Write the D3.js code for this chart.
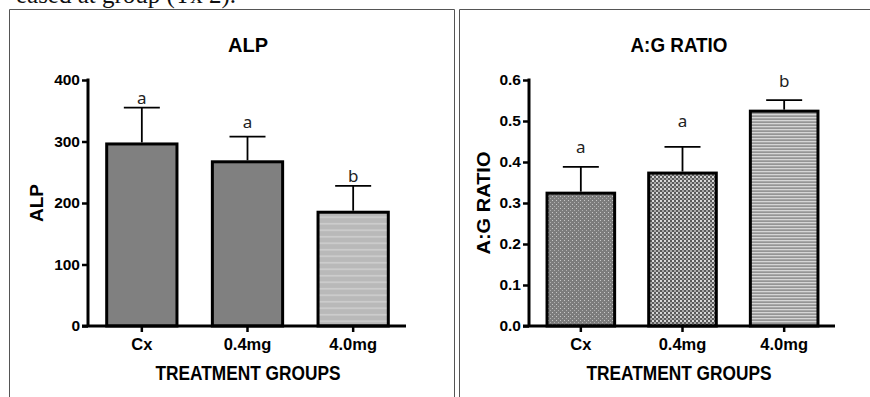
<!DOCTYPE html>
<html>
<head>
<meta charset="utf-8">
<script src="https://cdn.jsdelivr.net/npm/d3@7"></script>
<style>
  html, body { margin: 0; padding: 0; background: #fff; }
  svg { display: block; }
</style>
</head>
<body>
<svg id="chart" width="870" height="397"></svg>
<script>
// ---------------- DATA ----------------
const categories = ["Cx", "0.4mg", "4.0mg"];

const alpMeans   = [296, 267, 185];
const alpErrors  = [59, 41, 43];
const alpLetters = ["a", "a", "b"];
const alpTicks   = [0, 100, 200, 300, 400];

const agMeans    = [0.324, 0.373, 0.524];
const agErrors   = [0.064, 0.064, 0.027];
const agLetters  = ["a", "a", "b"];
const agTicks    = [0, 0.1, 0.2, 0.3, 0.4, 0.5, 0.6];

const xAxisTitle = "TREATMENT GROUPS";
const captionText = "eased at group (Tx 2).";

// ---------------- DRAW ----------------
const svg = d3.select("#chart");
const defs = svg.append("defs");

// fill patterns
function solid(id, c) {
  const p = defs.append("pattern").attr("id", id).attr("patternUnits", "userSpaceOnUse")
    .attr("width", 4).attr("height", 4);
  p.append("rect").attr("width", 4).attr("height", 4).attr("fill", c);
}
solid("solidGray", "#808080");

(function () {
  const p = defs.append("pattern").attr("id", "lightStripes").attr("patternUnits", "userSpaceOnUse")
    .attr("width", 6).attr("height", 6.5);
  p.append("rect").attr("width", 6).attr("height", 6.5).attr("fill", "#b9b9b9");
  p.append("rect").attr("y", 2).attr("width", 6).attr("height", 1.5).attr("fill", "#d0d0d0");
})();
(function () {
  const p = defs.append("pattern").attr("id", "dotsFine").attr("patternUnits", "userSpaceOnUse")
    .attr("width", 4).attr("height", 4);
  p.append("rect").attr("width", 4).attr("height", 4).attr("fill", "#7c7c7c");
  p.append("rect").attr("x", 0).attr("y", 0).attr("width", 1).attr("height", 1).attr("fill", "#c8c8c8");
  p.append("rect").attr("x", 2).attr("y", 2).attr("width", 1).attr("height", 1).attr("fill", "#b0b0b0");
})();
(function () {
  const p = defs.append("pattern").attr("id", "checker").attr("patternUnits", "userSpaceOnUse")
    .attr("width", 4).attr("height", 4);
  p.append("rect").attr("width", 4).attr("height", 4).attr("fill", "#5a5a5a");
  p.append("rect").attr("x", 0).attr("y", 0).attr("width", 2).attr("height", 2).attr("fill", "#d8d8d8");
  p.append("rect").attr("x", 2).attr("y", 2).attr("width", 2).attr("height", 2).attr("fill", "#a8a8a8");
})();
(function () {
  const p = defs.append("pattern").attr("id", "fineStripes").attr("patternUnits", "userSpaceOnUse")
    .attr("width", 4).attr("height", 3);
  p.append("rect").attr("width", 4).attr("height", 3).attr("fill", "#d6d6d6");
  p.append("rect").attr("y", 1.5).attr("width", 4).attr("height", 1.2).attr("fill", "#7a7a7a");
})();

// caption fragment at the top (from the article, cut off by the page edge as in the source)
svg.append("text")
  .attr("x", 236).attr("y", 3)
  .attr("text-anchor", "end")
  .attr("font-family", "'Liberation Serif', 'Times New Roman', serif")
  .attr("font-size", 25)
  .attr("fill", "#111")
  .text(captionText);

// panel borders
svg.append("path").attr("d", "M9.5,397 V9.5 H454.5 V397")
  .attr("fill", "none").attr("stroke", "#555").attr("stroke-width", 1);
svg.append("path").attr("d", "M459.5,397 V9.5 H870")
  .attr("fill", "none").attr("stroke", "#555").attr("stroke-width", 1);

const SANS = "'Liberation Sans', Arial, sans-serif";

function drawPanel(cfg) {
  const g = svg.append("g");
  const y = d3.scaleLinear().domain(cfg.domain).range([326, 80]);
  const x = d3.scaleBand().domain(categories).range([cfg.x0, cfg.x1])
    .paddingInner(0.335).paddingOuter(0.1675);

  // title
  g.append("text")
    .attr("x", cfg.titleX).attr("y", 52)
    .attr("text-anchor", "middle")
    .attr("font-family", SANS).attr("font-weight", "bold").attr("font-size", 20.5)
    .attr("textLength", cfg.titleLen).attr("lengthAdjust", "spacingAndGlyphs")
    .text(cfg.title);

  // bars
  g.selectAll("rect.bar").data(cfg.means).join("rect")
    .attr("class", "bar")
    .attr("x", (d, i) => x(categories[i]))
    .attr("width", x.bandwidth())
    .attr("y", d => y(d))
    .attr("height", d => y(cfg.domain[0]) - y(d))
    .attr("fill", (d, i) => `url(#${cfg.fills[i]})`)
    .attr("stroke", "#000").attr("stroke-width", 3);

  // error bars
  const cx = i => x(categories[i]) + x.bandwidth() / 2;
  g.selectAll("line.err").data(cfg.means).join("line")
    .attr("x1", (d, i) => cx(i)).attr("x2", (d, i) => cx(i))
    .attr("y1", d => y(d) - 1.5)
    .attr("y2", (d, i) => y(d + cfg.errors[i]))
    .attr("stroke", "#000").attr("stroke-width", 1.8);
  g.selectAll("line.cap").data(cfg.means).join("line")
    .attr("x1", (d, i) => cx(i) - 18).attr("x2", (d, i) => cx(i) + 18)
    .attr("y1", (d, i) => y(d + cfg.errors[i]))
    .attr("y2", (d, i) => y(d + cfg.errors[i]))
    .attr("stroke", "#000").attr("stroke-width", 1.8);

  // significance letters
  g.selectAll("text.sig").data(cfg.letters).join("text")
    .attr("x", (d, i) => cx(i))
    .attr("y", (d, i) => y(cfg.means[i] + cfg.errors[i]) - cfg.letterGap[i])
    .attr("text-anchor", "middle")
    .attr("font-family", "'Noto Sans', 'Open Sans', sans-serif")
    .attr("font-size", 17)
    .attr("fill", "#222")
    .text(d => d);

  // y axis
  const yAxis = d3.axisLeft(y).tickValues(cfg.ticks).tickFormat(cfg.fmt)
    .tickSizeInner(6).tickSizeOuter(0).tickPadding(2);
  const ya = g.append("g").attr("transform", `translate(${cfg.x0 - 1},0)`).call(yAxis);
  ya.select(".domain").attr("stroke", "#000").attr("stroke-width", 3)
    .attr("d", `M0,326V78.5`);
  ya.selectAll(".tick line").attr("stroke", "#000").attr("stroke-width", 2.5);
  ya.selectAll(".tick text")
    .attr("font-family", SANS).attr("font-weight", "bold").attr("font-size", 15.5)
    .attr("fill", "#000");

  // x axis
  const xAxis = d3.axisBottom(x).tickSizeInner(6).tickSizeOuter(0).tickPadding(6);
  const xa = g.append("g").attr("transform", "translate(0,326)").call(xAxis);
  xa.select(".domain").attr("stroke", "#000").attr("stroke-width", 3)
    .attr("d", `M${cfg.x0 - 7},0H${cfg.x1}`);
  xa.selectAll(".tick line").attr("stroke", "#000").attr("stroke-width", 2.5);
  xa.selectAll(".tick text")
    .attr("font-family", SANS).attr("font-weight", "bold").attr("font-size", 16.5)
    .attr("fill", "#000");

  // x axis title
  g.append("text")
    .attr("x", cfg.titleX).attr("y", 380)
    .attr("text-anchor", "middle")
    .attr("font-family", SANS).attr("font-weight", "bold").attr("font-size", 19.5)
    .attr("textLength", 185).attr("lengthAdjust", "spacingAndGlyphs")
    .text(xAxisTitle);

  // y axis title
  g.append("text")
    .attr("transform", `translate(${cfg.yTitleX},203) rotate(-90)`)
    .attr("text-anchor", "middle")
    .attr("font-family", SANS).attr("font-weight", "bold").attr("font-size", 18)
    .attr("textLength", cfg.yTitleLen).attr("lengthAdjust", "spacingAndGlyphs")
    .text(cfg.yTitle);
}

drawPanel({
  title: "ALP", titleX: 248, titleLen: 40,
  yTitle: "ALP", yTitleX: 43, yTitleLen: 38,
  domain: [0, 400], ticks: alpTicks, fmt: d3.format("d"),
  means: alpMeans, errors: alpErrors, letters: alpLetters,
  letterGap: [4, 9, 4],
  fills: ["solidGray", "solidGray", "lightStripes"],
  x0: 89, x1: 406
});

drawPanel({
  title: "A:G RATIO", titleX: 679, titleLen: 97,
  yTitle: "A:G RATIO", yTitleX: 490, yTitleLen: 103,
  domain: [0, 0.6], ticks: agTicks, fmt: d3.format(".1f"),
  means: agMeans, errors: agErrors, letters: agLetters,
  letterGap: [14, 20, 13],
  fills: ["dotsFine", "checker", "fineStripes"],
  x0: 530, x1: 835
});
</script>
</body>
</html>
